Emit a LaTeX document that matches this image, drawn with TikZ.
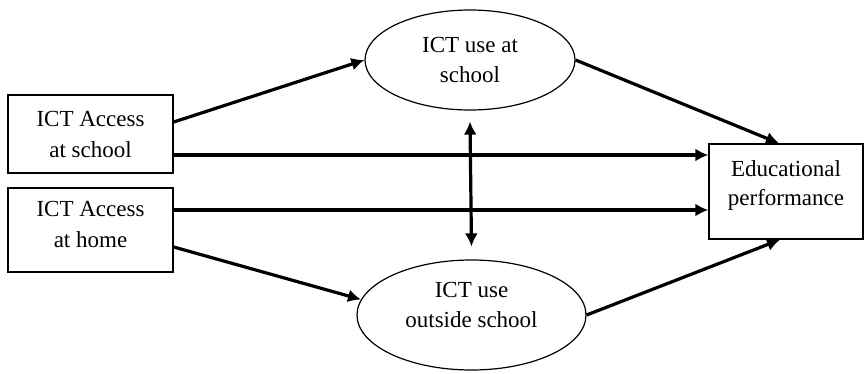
\documentclass[tikz,border=0pt]{standalone}
\usepackage{fontspec}
\setmainfont{Liberation Serif}
\usetikzlibrary{arrows.meta,shapes.geometric}
\begin{document}
\begin{tikzpicture}[x=1pt,y=-1pt,
  box/.style={draw,line width=1.4pt,rectangle,inner sep=0pt,align=center,font=\fontsize{23}{31}\selectfont},
  oval/.style={draw,line width=1.2pt,ellipse,inner sep=0pt,align=center,font=\fontsize{23}{30}\selectfont},
  arr/.style={line width=3.2pt,-{Latex[length=13pt,width=13pt]}},
  darr/.style={line width=3.2pt,{Latex[length=13pt,width=13pt]}-{Latex[length=13pt,width=13pt]}}]
\useasboundingbox (0,0) rectangle (865,373);
\node[box,minimum width=165pt,minimum height=78pt] (b1) at (90.5,134) {ICT Access\\at school};
\node[box,minimum width=165pt,minimum height=84pt,text depth=12pt] (b2) at (90.5,230) {ICT Access\\at home};
\node[oval,minimum width=210pt,minimum height=100pt] (t) at (470,60) {ICT use at\\school};
\node[oval,minimum width=229pt,minimum height=110pt,text depth=20pt] (bo) at (471.5,315) {ICT use\\outside school};
\node[box,minimum width=154pt,minimum height=95pt,font=\fontsize{23}{29}\selectfont,text depth=16pt] (r) at (786,191.5) {Educational\\performance};
\draw[arr] ([yshift=12pt]b1.east) -- (t.west);
\draw[arr] ([yshift=-21pt]b1.east) -- ([yshift=36.5pt]r.west);
\draw[arr] ([yshift=20pt]b2.east) -- ([yshift=-18.5pt]r.west);
\draw[arr] ([yshift=-17pt]b2.east) -- (bo.172);
\draw[arr] (t.east) -- ([xshift=-7pt]r.north);
\draw[arr] (bo.east) -- ([xshift=-6pt]r.south);
\draw[darr] ([yshift=-11pt]t.south) -- ([yshift=13pt]bo.north);
\end{tikzpicture}
\end{document}
